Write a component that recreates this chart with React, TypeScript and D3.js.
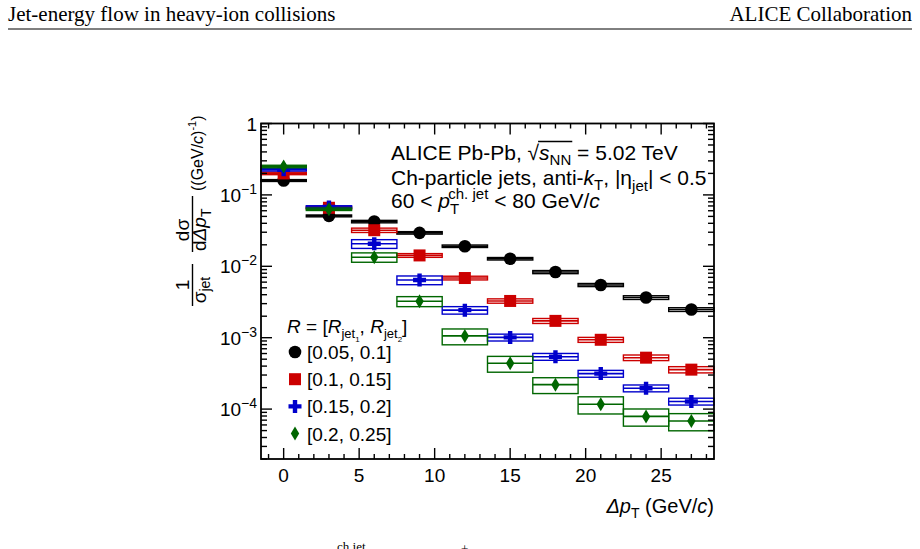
import { useLayoutEffect, useRef, useState } from "react";
import * as d3 from "d3";

// Δp_T distributions for pairs of jet radii, Pb-Pb 5.02 TeV
// bins are 3 GeV/c wide, centred on the values below

const binCenters = [0, 3, 6, 9, 12, 15, 18, 21, 24, 27];
const binHalfWidth = 1.5;

const valR005 = [0.159, 0.0508, 0.0423, 0.0294, 0.0191, 0.01276, 0.0083, 0.00547, 0.00365, 0.00248];
const valR010 = [0.2, 0.066, 0.032, 0.0142, 0.00685, 0.00327, 0.00172, 0.000935, 0.000525, 0.000357];
const valR015 = [0.225, 0.0678, 0.0207, 0.00642, 0.00243, 0.00101, 0.000542, 0.000314, 0.000196, 0.000128];
const valR020 = [0.25, 0.063, 0.0134, 0.00324, 0.00106, 0.000438, 0.00022, 0.000117, 0.000079, 0.000068];

// relative systematic uncertainties (boxes)
const sysR005 = [0.03, 0.03, 0.04, 0.04, 0.04, 0.04, 0.05, 0.05, 0.06, 0.06];
const sysR010 = [0.04, 0.04, 0.07, 0.06, 0.06, 0.07, 0.08, 0.08, 0.09, 0.1];
const sysR015 = [0.04, 0.04, 0.14, 0.14, 0.12, 0.11, 0.11, 0.11, 0.11, 0.11];
const sysR020 = [0.04, 0.04, 0.15, 0.16, 0.25, 0.25, 0.25, 0.27, 0.27, 0.27];

const legendLabels = ["[0.05, 0.1]", "[0.1, 0.15]", "[0.15, 0.2]", "[0.2, 0.25]"];
const seriesColors = ["#000000", "#cc0000", "#0000cc", "#006600"];
const markerKinds = ["circle", "square", "plus", "diamond"];

const xMajorTicks = [0, 5, 10, 15, 20, 25];
const yDecades = [0, -1, -2, -3, -4];

const W = 920;
const H = 549;
const frame = { left: 261, right: 714, top: 123.5, bottom: 459 };
const sans = "'Liberation Sans', Arial, Helvetica, sans-serif";
const serif = "'Liberation Serif', 'Times New Roman', Times, serif";

function Marker({ kind, x, y, color }: { kind: string; x: number; y: number; color: string }) {
  if (kind === "circle") return <circle cx={x} cy={y} r={6.3} fill={color} />;
  if (kind === "square") return <rect x={x - 6} y={y - 6} width={12} height={12} fill={color} />;
  if (kind === "plus")
    return (
      <path
        transform={`translate(${x},${y})`}
        d="M-6.5,-2.2H-2.2V-6.5H2.2V-2.2H6.5V2.2H2.2V6.5H-2.2V2.2H-6.5Z"
        fill={color}
      />
    );
  return <path transform={`translate(${x},${y})`} d="M0,-7L4.2,0L0,7L-4.2,0Z" fill={color} />;
}

export default function App() {
  const x = d3.scaleLinear([-1.5, 28.5], [frame.left, frame.right]);
  const y = d3.scaleLog([2e-5, 1], [frame.bottom, frame.top]);

  const series = [
    { values: valR005, sys: sysR005 },
    { values: valR010, sys: sysR010 },
    { values: valR015, sys: sysR015 },
    { values: valR020, sys: sysR020 },
  ].map((s, i) => ({ ...s, color: seriesColors[i], kind: markerKinds[i], label: legendLabels[i] }));

  const xMinor = d3.range(-1, 29, 1).filter((v) => v % 5 !== 0);
  const yAll = y.ticks();
  const yMinor = yAll.filter((v) => Math.abs(Math.log10(v) - Math.round(Math.log10(v))) > 1e-6);

  // overline for the square root in the energy label
  const sqrtRef = useRef<SVGTextElement>(null);
  const [bar, setBar] = useState<{ x1: number; x2: number } | null>(null);
  useLayoutEffect(() => {
    const t = sqrtRef.current;
    if (!t) return;
    const s = t.getExtentOfChar(14);
    const n = t.getExtentOfChar(16);
    setBar({ x1: s.x - 1, x2: n.x + n.width + 1 });
  }, []);

  const majorLen = 11;
  const minorLen = 6;

  return (
    <svg width={W} height={H} style={{ position: "absolute", left: 0, top: 0, background: "#fff" }}>
      {/* page header */}
      <text x={8} y={21} fontFamily={serif} fontSize={21}>Jet-energy flow in heavy-ion collisions</text>
      <text x={912} y={21} fontFamily={serif} fontSize={21} textAnchor="end">ALICE Collaboration</text>
      <line x1={8} x2={912} y1={29} y2={29} stroke="#000" strokeWidth={1} />

      {/* data */}
      {series.map((s, si) => (
        <g key={si}>
          {binCenters.map((c, i) => {
            const v = s.values[i];
            const e = s.sys[i];
            const x0 = x(c - binHalfWidth);
            const x1 = x(c + binHalfWidth);
            return (
              <g key={i}>
                <rect
                  x={x0}
                  y={y(v * (1 + e))}
                  width={x1 - x0}
                  height={y(v * (1 - e)) - y(v * (1 + e))}
                  fill="none"
                  stroke={s.color}
                  strokeWidth={1.4}
                />
                <line x1={x0} x2={x1} y1={y(v)} y2={y(v)} stroke={s.color} strokeWidth={1.6} />
                <Marker kind={s.kind} x={x(c)} y={y(v)} color={s.color} />
              </g>
            );
          })}
        </g>
      ))}

      {/* frame and ticks */}
      <g stroke="#000" strokeWidth={1.4}>
        {xMajorTicks.map((t) => (
          <g key={t}>
            <line x1={x(t)} x2={x(t)} y1={frame.bottom} y2={frame.bottom - majorLen} />
            <line x1={x(t)} x2={x(t)} y1={frame.top} y2={frame.top + majorLen} />
          </g>
        ))}
        {xMinor.map((t) => (
          <g key={t}>
            <line x1={x(t)} x2={x(t)} y1={frame.bottom} y2={frame.bottom - 5} />
            <line x1={x(t)} x2={x(t)} y1={frame.top} y2={frame.top + 5} />
          </g>
        ))}
        {yDecades.map((d) => (
          <g key={d}>
            <line x1={frame.left} x2={frame.left + majorLen} y1={y(10 ** d)} y2={y(10 ** d)} />
            <line x1={frame.right} x2={frame.right - majorLen} y1={y(10 ** d)} y2={y(10 ** d)} />
          </g>
        ))}
        {yMinor.map((t, i) => (
          <g key={i}>
            <line x1={frame.left} x2={frame.left + minorLen} y1={y(t)} y2={y(t)} />
            <line x1={frame.right} x2={frame.right - minorLen} y1={y(t)} y2={y(t)} />
          </g>
        ))}
        <rect
          x={frame.left}
          y={frame.top}
          width={frame.right - frame.left}
          height={frame.bottom - frame.top}
          fill="none"
          strokeWidth={1.8}
        />
      </g>

      {/* tick labels */}
      <g fontFamily={sans} fontSize={19}>
        {xMajorTicks.map((t) => (
          <text key={t} x={x(t)} y={frame.bottom + 23} textAnchor="middle">{t}</text>
        ))}
        {yDecades.map((d) =>
          d === 0 ? (
            <text key={d} x={frame.left - 4} y={y(1) + 7} textAnchor="end">1</text>
          ) : (
            <text key={d} x={frame.left - 4} y={y(10 ** d) + 7} textAnchor="end">
              10<tspan fontSize={14} dy={-8}>{"\u2212" + Math.abs(d)}</tspan>
            </text>
          )
        )}
      </g>

      {/* axis titles */}
      <text x={frame.right} y={513} textAnchor="end" fontFamily={sans} fontSize={20}>
        <tspan fontStyle="italic">Δp</tspan>
        <tspan fontSize={14} dy={5}>T</tspan>
        <tspan dy={-5}> (GeV/</tspan>
        <tspan fontStyle="italic">c</tspan>)
      </text>
      <g transform="rotate(-90)" fontFamily={sans} fontSize={19}>
        <text x={-285} y={189} textAnchor="middle">1</text>
        <line x1={-306} x2={-264} y1={192.5} y2={192.5} stroke="#000" strokeWidth={1.4} />
        <text x={-290} y={206} textAnchor="middle">
          σ<tspan fontSize={14} dy={4}>jet</tspan>
        </text>
        <text x={-230} y={189} textAnchor="middle">dσ</text>
        <line x1={-252} x2={-196} y1={192.5} y2={192.5} stroke="#000" strokeWidth={1.4} />
        <text x={-251} y={206}>
          d<tspan fontStyle="italic">Δp</tspan>
          <tspan fontSize={14} dy={5}>T</tspan>
        </text>
        <text x={-191} y={203} fontSize={16}>
          ((GeV/<tspan fontStyle="italic">c</tspan>)<tspan fontSize={11} dy={-7}>-1</tspan>
          <tspan dy={7}>)</tspan>
        </text>
      </g>

      {/* analysis labels */}
      <g fontFamily={sans} fontSize={21}>
        <text ref={sqrtRef} x={391} y={160}>
          ALICE Pb-Pb, √<tspan fontStyle="italic">s</tspan>
          <tspan fontSize={15} dy={5}>NN</tspan>
          <tspan dy={-5}> = 5.02 TeV</tspan>
        </text>
        {bar && <line x1={bar.x1} x2={bar.x2} y1={141.5} y2={141.5} stroke="#000" strokeWidth={1.3} />}
        <text x={391} y={185}>
          Ch-particle jets, anti-<tspan fontStyle="italic">k</tspan>
          <tspan fontSize={15} dy={5}>T</tspan>
          <tspan dy={-5}>, |η</tspan>
          <tspan fontSize={15} dy={6}>jet</tspan>
          <tspan dy={-6}>| &lt; 0.5</tspan>
        </text>
        <text x={391} y={208}>
          60 &lt; <tspan fontStyle="italic">p</tspan>
          <tspan fontSize={15} dy={6}>T</tspan>
          <tspan fontSize={15} dx={-9.2} dy={-15}>ch. jet</tspan>
          <tspan dy={9}> &lt; 80 GeV/</tspan>
          <tspan fontStyle="italic">c</tspan>
        </text>
      </g>

      {/* legend */}
      <g fontFamily={sans} fontSize={19}>
        <text x={287} y={333}>
          <tspan fontStyle="italic">R</tspan> = [<tspan fontStyle="italic">R</tspan>
          <tspan fontSize={13} dy={5}>jet</tspan>
          <tspan fontSize={8} dy={4}>1</tspan>
          <tspan dy={-9}>, </tspan>
          <tspan fontStyle="italic">R</tspan>
          <tspan fontSize={13} dy={5}>jet</tspan>
          <tspan fontSize={8} dy={4}>2</tspan>
          <tspan dy={-9}>]</tspan>
        </text>
        {series.map((s, i) => {
          const ly = 352 + i * 27.2;
          return (
            <g key={i}>
              <Marker kind={s.kind} x={295} y={ly} color={s.color} />
              <text x={307} y={ly + 7}>{s.label}</text>
            </g>
          );
        })}
      </g>

      {/* start of the figure caption below */}
      <text x={337} y={551} fontFamily={serif} fontSize={13}>ch jet</text>
      <text x={461} y={553} fontFamily={serif} fontSize={13}>+</text>
    </svg>
  );
}
